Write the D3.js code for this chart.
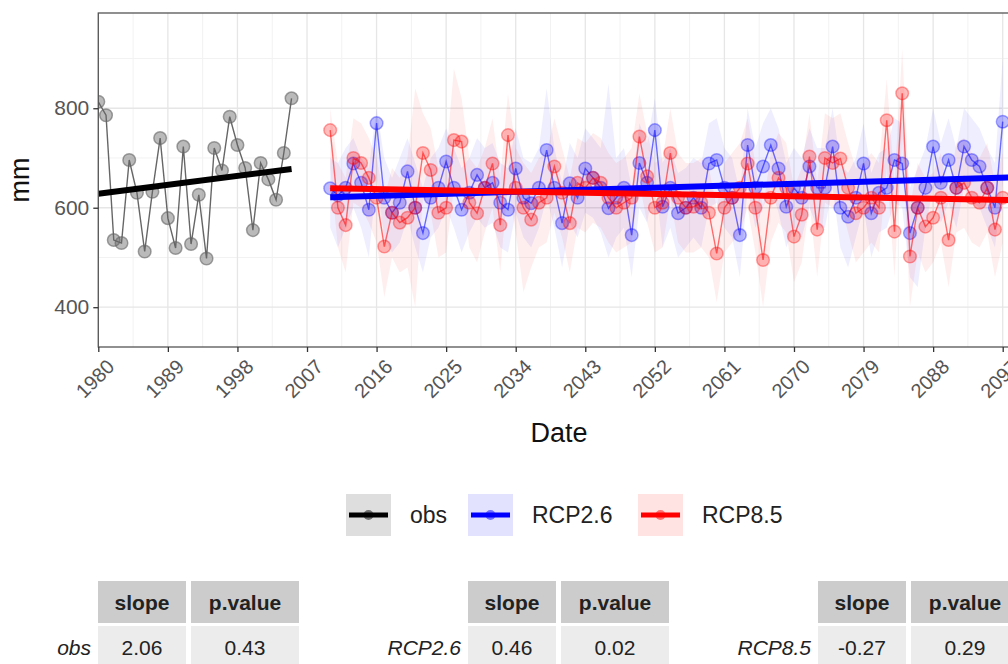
<!DOCTYPE html>
<html><head><meta charset="utf-8">
<script src="https://cdn.jsdelivr.net/npm/d3@7"></script>
<style>body{margin:0;background:#fff;} text{font-family:"Liberation Sans",Arial,sans-serif;}</style>
</head><body><svg id="c" width="1008" height="664"></svg>
<script>
// ---------- data ----------
const obsYears = d3.range(1980, 2006);
const obsValues = [813, 786, 535, 529, 696, 630, 512, 632, 740, 579,
                   519, 723, 527, 626, 498, 720, 675, 783, 726, 680,
                   555, 690, 657, 616, 710, 820];
const rcpYears = d3.range(2010, 2098);
const rcp26 = [639, 625, 640, 689, 650, 596, 770, 620, 590, 610,
               673, 600, 549, 620, 640, 693, 640, 596, 630, 666,
               640, 650, 610, 596, 679, 620, 609, 640, 716, 640,
               569, 649, 620, 679, 660, 640, 599, 620, 640, 545,
               690, 650, 756, 602, 640, 589, 600, 620, 600, 689,
               696, 640, 620, 545, 726, 640, 683, 726, 679, 602,
               640, 620, 683, 640, 640, 723, 600, 582, 620, 689,
               589, 630, 640, 696, 689, 549, 600, 640, 723, 650,
               696, 640, 723, 696, 683, 640, 600, 773];
const rcp26Hi = [700, 690, 720, 740, 700, 680, 800, 700, 660, 700,
                 740, 690, 640, 700, 720, 760, 720, 680, 700, 740,
                 720, 730, 690, 680, 760, 700, 690, 720, 840, 720,
                 650, 730, 700, 760, 740, 720, 850, 700, 720, 640,
                 770, 730, 820, 690, 720, 670, 680, 700, 690, 770,
                 780, 720, 700, 630, 800, 720, 770, 800, 760, 690,
                 720, 700, 760, 720, 720, 800, 690, 670, 700, 770,
                 670, 710, 720, 780, 770, 640, 680, 720, 800, 730,
                 780, 720, 800, 780, 760, 720, 690, 900];
const rcp26Lo = [560, 520, 560, 600, 560, 500, 660, 540, 510, 530,
                 580, 520, 470, 540, 560, 600, 560, 510, 550, 580,
                 560, 570, 520, 510, 590, 540, 520, 560, 620, 560,
                 480, 570, 540, 590, 580, 550, 500, 540, 560, 460,
                 600, 570, 660, 520, 560, 500, 520, 540, 520, 600,
                 610, 560, 540, 460, 640, 560, 600, 640, 590, 520,
                 560, 540, 600, 560, 560, 640, 520, 480, 540, 600,
                 500, 550, 560, 610, 600, 460, 440, 560, 640, 570,
                 610, 560, 640, 610, 600, 560, 520, 650];
const rcp85 = [756, 600, 565, 700, 690, 660, 620, 522, 590, 570,
               580, 600, 710, 676, 590, 600, 736, 733, 610, 589,
               640, 689, 565, 746, 640, 600, 576, 610, 620, 683,
               630, 569, 650, 640, 660, 650, 620, 600, 610, 620,
               743, 663, 600, 610, 710, 620, 600, 602, 610, 590,
               508, 600, 620, 640, 689, 600, 495, 620, 660, 640,
               542, 586, 703, 556, 700, 690, 699, 640, 589, 600,
               620, 600, 776, 552, 830, 502, 600, 562, 580, 620,
               535, 640, 650, 620, 610, 640, 556, 620];
const rcp85Hi = [800, 690, 660, 780, 770, 740, 700, 620, 680, 660,
                 700, 840, 790, 760, 680, 700, 880, 820, 700, 680,
                 720, 780, 660, 830, 720, 690, 670, 700, 710, 780,
                 720, 660, 740, 730, 750, 740, 710, 690, 700, 720,
                 830, 750, 690, 700, 800, 710, 690, 690, 700, 680,
                 600, 690, 710, 730, 780, 690, 600, 710, 750, 730,
                 640, 680, 790, 650, 790, 780, 790, 730, 680, 690,
                 710, 690, 860, 650, 920, 600, 690, 660, 670, 710,
                 630, 730, 740, 710, 700, 730, 650, 710];
const rcp85Lo = [680, 520, 470, 610, 600, 570, 530, 420, 500, 470,
                 480, 400, 620, 590, 500, 510, 640, 640, 520, 490,
                 550, 600, 470, 650, 550, 430, 480, 520, 530, 590,
                 540, 470, 560, 550, 570, 560, 530, 510, 520, 530,
                 650, 570, 510, 520, 620, 530, 510, 510, 520, 500,
                 410, 510, 530, 550, 600, 510, 400, 530, 570, 550,
                 450, 490, 610, 460, 610, 600, 610, 550, 490, 510,
                 530, 510, 680, 460, 740, 400, 510, 470, 490, 530,
                 440, 550, 560, 530, 520, 550, 460, 530];
const obsTrendYears = [1980, 2005];
const obsTrend = [628, 678];
const rcpTrendYears = [2010, 2100];
const rcp26Trend = [621, 662];
const rcp85Trend = [639, 615];
const xTickValues = d3.range(1980, 2098, 9);
const yTickValues = [400, 600, 800];
const yMinorValues = [500, 700, 900];
const legendLabels = ["obs", "RCP2.6", "RCP8.5"];
const tableRowLabels = ["obs", "RCP2.6", "RCP8.5"];
const tableHeaders = ["slope", "p.value"];
const tableSlopes = ["2.06", "0.46", "-0.27"];
const tablePValues = ["0.43", "0.02", "0.29"];

// ---------- layout ----------
const svg = d3.select("#c");
const P = {left: 98.3, top: 13, bottom: 347, right: 1040};
const x = d3.scaleLinear().domain([1980, 2097]).range([98.3, 1002.7]);
const y = d3.scaleLinear().domain([320, 991.5]).range([P.bottom, P.top]);
const COL = {obs: "#000000", b: "#0000ff", r: "#ff0000"};

svg.append("defs").append("clipPath").attr("id", "clip")
  .append("rect").attr("x", P.left).attr("y", P.top)
  .attr("width", P.right - P.left).attr("height", P.bottom - P.top);

// grid
const grid = svg.append("g");
const xMinor = xTickValues.map(v => v + 4.5);
grid.selectAll(".xm").data(xMinor).enter().append("line")
  .attr("x1", d => x(d)).attr("x2", d => x(d)).attr("y1", P.top).attr("y2", P.bottom)
  .attr("stroke", "#f2f2f2").attr("stroke-width", 1);
grid.selectAll(".ym").data(yMinorValues).enter().append("line")
  .attr("x1", P.left).attr("x2", P.right).attr("y1", d => y(d)).attr("y2", d => y(d))
  .attr("stroke", "#f2f2f2").attr("stroke-width", 1);
grid.selectAll(".xM").data(xTickValues).enter().append("line")
  .attr("x1", d => x(d)).attr("x2", d => x(d)).attr("y1", P.top).attr("y2", P.bottom)
  .attr("stroke", "#e6e6e6").attr("stroke-width", 1.3);
grid.selectAll(".yM").data(yTickValues).enter().append("line")
  .attr("x1", P.left).attr("x2", P.right).attr("y1", d => y(d)).attr("y2", d => y(d))
  .attr("stroke", "#e6e6e6").attr("stroke-width", 1.3);

const plot = svg.append("g").attr("clip-path", "url(#clip)");

function series(years, vals, lo, hi, color, fillOp) {
  const data = years.map((yr, i) => ({yr, v: vals[i], lo: lo ? lo[i] : null, hi: hi ? hi[i] : null}));
  if (lo) {
    plot.append("path").datum(data)
      .attr("d", d3.area().x(d => x(d.yr)).y0(d => y(d.lo)).y1(d => y(d.hi)))
      .attr("fill", color).attr("fill-opacity", fillOp);
  }
  return data;
}
const dB = series(rcpYears, rcp26, rcp26Lo, rcp26Hi, COL.b, 0.065);
const dR = series(rcpYears, rcp85, rcp85Lo, rcp85Hi, COL.r, 0.065);
const dO = series(obsYears, obsValues, null, null, "#888", 0);

function linePts(data, lineColor, lineOp, ptFill, ptOp, strokeOp) {
  plot.append("path").datum(data)
    .attr("d", d3.line().x(d => x(d.yr)).y(d => y(d.v)))
    .attr("fill", "none").attr("stroke", lineColor).attr("stroke-opacity", lineOp).attr("stroke-width", 1.4);
  plot.append("g").selectAll("circle").data(data).enter().append("circle")
    .attr("cx", d => x(d.yr)).attr("cy", d => y(d.v)).attr("r", 6.3)
    .attr("fill", ptFill).attr("fill-opacity", ptOp)
    .attr("stroke", ptFill).attr("stroke-opacity", strokeOp).attr("stroke-width", 1.5);
}
linePts(dB, COL.b, 0.55, COL.b, 0.26, 0.35);
linePts(dR, COL.r, 0.55, COL.r, 0.26, 0.35);
linePts(dO, "#555", 0.9, "#666", 0.45, 0.6);

function trend(years, vals, color) {
  plot.append("line")
    .attr("x1", x(years[0])).attr("x2", x(years[1]))
    .attr("y1", y(vals[0])).attr("y2", y(vals[1]))
    .attr("stroke", color).attr("stroke-width", 6);
}
trend(obsTrendYears, obsTrend, COL.obs);
trend(rcpTrendYears, rcp26Trend, COL.b);
trend(rcpTrendYears, rcp85Trend, COL.r);

// panel border
svg.append("rect").attr("x", P.left).attr("y", P.top)
  .attr("width", P.right - P.left).attr("height", P.bottom - P.top)
  .attr("fill", "none").attr("stroke", "#555").attr("stroke-width", 1.3);

// axes
const xAxis = svg.append("g").attr("transform", `translate(0,${P.bottom})`)
  .call(d3.axisBottom(x).tickValues(xTickValues).tickSize(5).tickFormat(d3.format("d")));
xAxis.select(".domain").remove();
xAxis.selectAll(".tick line").attr("stroke", "#333").attr("stroke-width", 1.3);
xAxis.selectAll(".tick text")
  .attr("font-size", 20).attr("fill", "#555")
  .attr("text-anchor", "end")
  .attr("transform", "translate(7,11) rotate(-45)")
  .attr("dy", "0.7em").attr("y", 0).attr("x", 0);

const yAxis = svg.append("g").attr("transform", `translate(${P.left},0)`)
  .call(d3.axisLeft(y).tickValues(yTickValues).tickSize(5));
yAxis.select(".domain").remove();
yAxis.selectAll(".tick line").attr("stroke", "#333").attr("stroke-width", 1.3);
yAxis.selectAll(".tick text").attr("font-size", 21).attr("fill", "#555").attr("x", -9);

svg.append("text").attr("x", 559).attr("y", 442).attr("text-anchor", "middle")
  .attr("font-size", 27).attr("fill", "#111").text("Date");
svg.append("text").attr("transform", "translate(29,180) rotate(-90)").attr("text-anchor", "middle")
  .attr("font-size", 27).attr("fill", "#111").text("mm");

// legend
const legKeyX = [346, 468, 638];
const legKeyFill = ["#dedede", "#e2e2ff", "#ffe2e2"];
const legLineCol = [COL.obs, COL.b, COL.r];
const leg = svg.append("g");
legendLabels.forEach((lab, i) => {
  const kx = legKeyX[i];
  leg.append("rect").attr("x", kx).attr("y", 494).attr("width", 45).attr("height", 42).attr("fill", legKeyFill[i]);
  leg.append("line").attr("x1", kx + 3).attr("x2", kx + 42).attr("y1", 515).attr("y2", 515)
    .attr("stroke", legLineCol[i]).attr("stroke-width", 5);
  leg.append("circle").attr("cx", kx + 22.5).attr("cy", 515).attr("r", 5)
    .attr("fill", legLineCol[i]).attr("fill-opacity", 0.5);
  leg.append("text").attr("x", kx + 64).attr("y", 523).attr("font-size", 23).attr("fill", "#222").text(lab);
});

// tables
const tblX = [98, 468, 818];
const tbl = svg.append("g");
tableRowLabels.forEach((lab, i) => {
  const tx = tblX[i];
  const cellW = [88, 108];
  const cx = [tx, tx + 93];
  tableHeaders.forEach((h, j) => {
    tbl.append("rect").attr("x", cx[j]).attr("y", 581).attr("width", cellW[j]).attr("height", 42).attr("fill", "#cccccc");
    tbl.append("text").attr("x", cx[j] + cellW[j] / 2).attr("y", 610).attr("text-anchor", "middle")
      .attr("font-size", 21).attr("font-weight", "bold").attr("fill", "#222").text(h);
    tbl.append("rect").attr("x", cx[j]).attr("y", 626).attr("width", cellW[j]).attr("height", 42).attr("fill", "#ececec");
  });
  tbl.append("text").attr("x", cx[0] + cellW[0] / 2).attr("y", 655).attr("text-anchor", "middle")
    .attr("font-size", 21).attr("fill", "#222").text(tableSlopes[i]);
  tbl.append("text").attr("x", cx[1] + cellW[1] / 2).attr("y", 655).attr("text-anchor", "middle")
    .attr("font-size", 21).attr("fill", "#222").text(tablePValues[i]);
  tbl.append("text").attr("x", tx - 7).attr("y", 655).attr("text-anchor", "end")
    .attr("font-size", 21).attr("font-style", "italic").attr("fill", "#222").text(lab);
});
</script></body></html>
